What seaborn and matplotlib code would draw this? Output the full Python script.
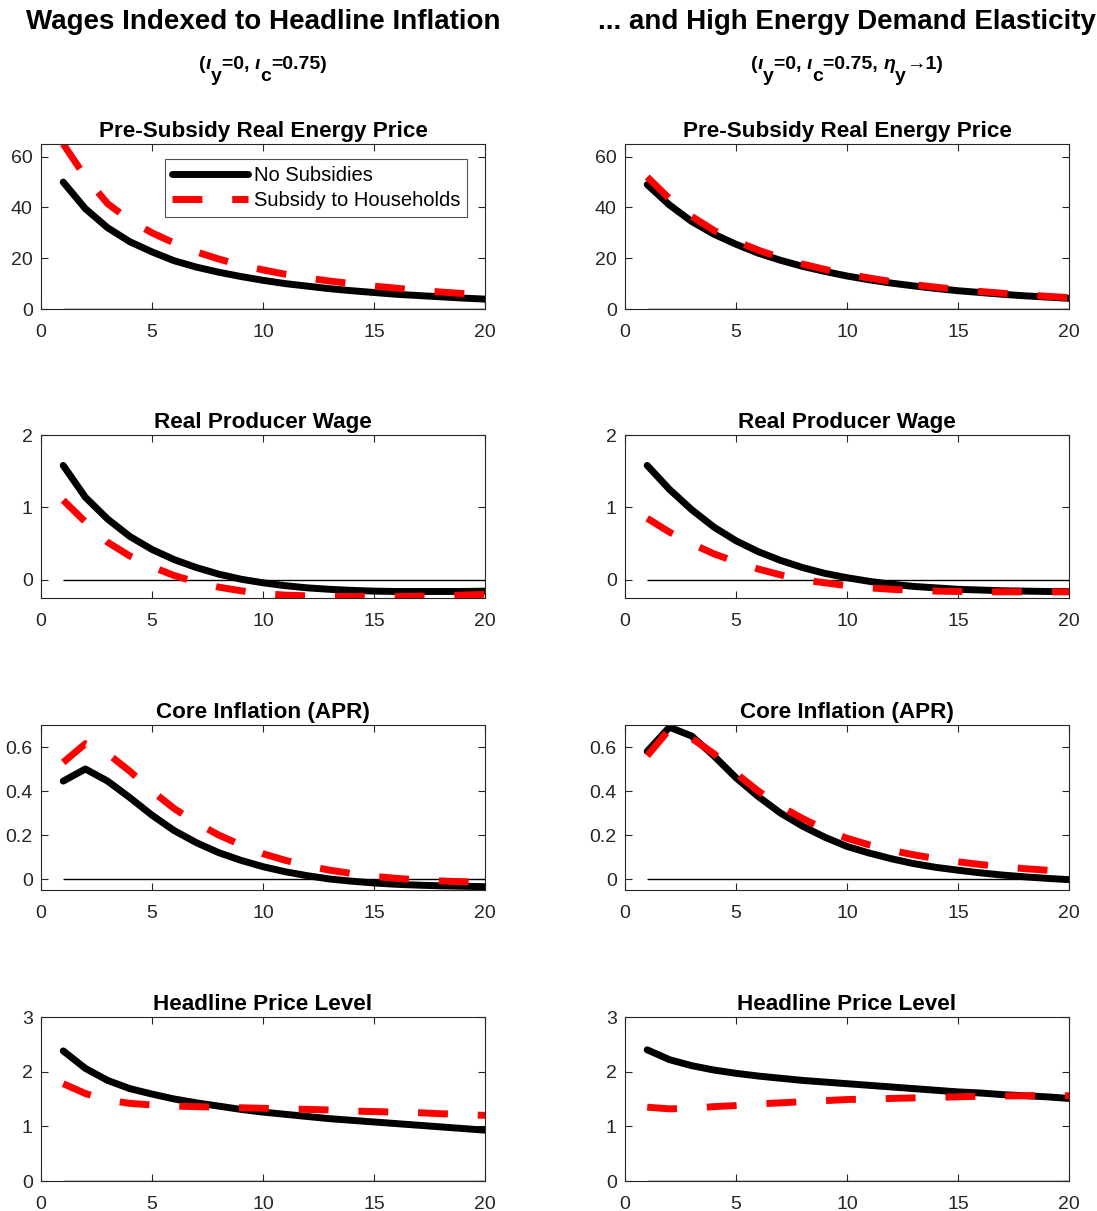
import matplotlib
matplotlib.use("Agg")
import matplotlib.pyplot as plt
from matplotlib.lines import Line2D
import pandas as pd
import seaborn as sns

sns.set_style("ticks")
plt.rcParams["font.family"] = ["Liberation Sans", "DejaVu Sans"]

# ---------------------------------------------------------------- data
quarters = list(range(1, 21))
series_names = ["No Subsidies", "Subsidy to Households"]

column_titles = ["Wages Indexed to Headline Inflation",
                 "... and High Energy Demand Elasticity"]
# subtitle pieces: (text, lowered?, italic?)
column_subtitles = [
    [("(", 0, False), ("ι", 0, True), ("y", 1, False), ("=0, ", 0, False),
     ("ι", 0, True), ("c", 1, False), ("=0.75)", 0, False)],
    [("(", 0, False), ("ι", 0, True), ("y", 1, False), ("=0, ", 0, False),
     ("ι", 0, True), ("c", 1, False), ("=0.75, ", 0, False),
     ("η", 0, True), ("y", 1, False), ("→1)", 0, False)],
]
panel_titles = ["Pre-Subsidy Real Energy Price", "Real Producer Wage",
                "Core Inflation (APR)", "Headline Price Level"]

# Left column: wages indexed to headline inflation
energy_nosub_L = [50.0, 39.5, 32.0, 26.5, 22.5, 19.0, 16.5, 14.5, 12.8, 11.3,
                  10.0, 9.0, 8.0, 7.2, 6.5, 5.8, 5.3, 4.8, 4.3, 3.9]
energy_sub_L = [65.0, 52.0, 41.5, 35.0, 30.0, 26.0, 22.5, 19.7, 17.3, 15.4,
                13.7, 12.2, 11.0, 10.0, 9.0, 8.2, 7.4, 6.7, 6.1, 5.5]
wage_nosub_L = [1.58, 1.14, 0.84, 0.60, 0.42, 0.28, 0.17, 0.08, 0.01, -0.04,
                -0.08, -0.11, -0.13, -0.145, -0.155, -0.16, -0.16, -0.16, -0.16, -0.155]
wage_sub_L = [1.10, 0.80, 0.52, 0.33, 0.18, 0.06, -0.03, -0.10, -0.15, -0.19,
              -0.21, -0.22, -0.23, -0.23, -0.23, -0.23, -0.225, -0.22, -0.21, -0.20]
core_nosub_L = [0.445, 0.50, 0.445, 0.37, 0.29, 0.22, 0.165, 0.12, 0.085, 0.056,
                0.033, 0.015, 0.0, -0.01, -0.018, -0.024, -0.028, -0.031, -0.033, -0.035]
core_sub_L = [0.53, 0.615, 0.57, 0.49, 0.40, 0.32, 0.255, 0.20, 0.155, 0.115,
              0.085, 0.06, 0.04, 0.025, 0.012, 0.003, -0.004, -0.009, -0.012, -0.015]
price_nosub_L = [2.38, 2.06, 1.84, 1.69, 1.59, 1.50, 1.43, 1.37, 1.31, 1.26,
                 1.22, 1.18, 1.14, 1.11, 1.08, 1.05, 1.02, 0.99, 0.96, 0.93]
price_sub_L = [1.78, 1.60, 1.48, 1.42, 1.39, 1.37, 1.36, 1.35, 1.34, 1.33,
               1.32, 1.31, 1.30, 1.28, 1.27, 1.26, 1.25, 1.23, 1.22, 1.20]

# Right column: high energy demand elasticity
energy_nosub_R = [49.0, 41.0, 34.5, 29.5, 25.5, 22.0, 19.2, 16.8, 14.8, 13.0,
                  11.5, 10.2, 9.1, 8.1, 7.2, 6.5, 5.8, 5.2, 4.7, 4.2]
energy_sub_R = [52.0, 43.5, 36.5, 31.0, 26.7, 23.2, 20.2, 17.7, 15.6, 13.8,
                12.2, 10.8, 9.6, 8.6, 7.7, 6.9, 6.2, 5.6, 5.0, 4.5]
wage_nosub_R = [1.58, 1.25, 0.97, 0.73, 0.54, 0.39, 0.27, 0.17, 0.09, 0.03,
                -0.02, -0.06, -0.09, -0.11, -0.13, -0.14, -0.15, -0.155, -0.16, -0.16]
wage_sub_R = [0.85, 0.66, 0.50, 0.36, 0.25, 0.15, 0.07, 0.0, -0.04, -0.08,
              -0.11, -0.13, -0.145, -0.155, -0.16, -0.165, -0.165, -0.165, -0.165, -0.165]
core_nosub_R = [0.58, 0.69, 0.65, 0.56, 0.46, 0.375, 0.30, 0.24, 0.19, 0.148,
                0.118, 0.092, 0.07, 0.053, 0.04, 0.028, 0.018, 0.01, 0.003, -0.003]
core_sub_R = [0.56, 0.68, 0.64, 0.57, 0.48, 0.40, 0.33, 0.275, 0.225, 0.185,
              0.155, 0.13, 0.11, 0.093, 0.078, 0.066, 0.056, 0.047, 0.04, 0.034]
price_nosub_R = [2.40, 2.22, 2.11, 2.03, 1.97, 1.92, 1.88, 1.84, 1.81, 1.78,
                 1.75, 1.72, 1.69, 1.66, 1.63, 1.61, 1.58, 1.56, 1.54, 1.51]
price_sub_R = [1.35, 1.32, 1.33, 1.36, 1.38, 1.41, 1.43, 1.45, 1.47, 1.49,
               1.50, 1.51, 1.52, 1.53, 1.54, 1.55, 1.555, 1.56, 1.56, 1.56]

y_limits = [(0, 65), (-0.25, 2), (-0.05, 0.7), (0, 3)]
y_ticks = [[0, 20, 40, 60], [0, 1, 2], [0, 0.2, 0.4, 0.6], [0, 1, 2, 3]]
y_ticklabels = [["0", "20", "40", "60"], ["0", "1", "2"],
                ["0", "0.2", "0.4", "0.6"], ["0", "1", "2", "3"]]
x_ticks = [0, 5, 10, 15, 20]

panels = [
    [(energy_nosub_L, energy_sub_L), (energy_nosub_R, energy_sub_R)],
    [(wage_nosub_L, wage_sub_L), (wage_nosub_R, wage_sub_R)],
    [(core_nosub_L, core_sub_L), (core_nosub_R, core_sub_R)],
    [(price_nosub_L, price_sub_L), (price_nosub_R, price_sub_R)],
]

# ---------------------------------------------------------------- style
palette = {series_names[0]: "black", series_names[1]: "red"}
dash_map = {series_names[0]: "", series_names[1]: (4.3, 4.3)}
AX_GREY = "#262626"
LINE_W = 5.0

FIG_W, FIG_H = 1097, 1211
fig = plt.figure(figsize=(FIG_W / 100, FIG_H / 100), dpi=100)

col_left = [41 / FIG_W, 625 / FIG_W]
ax_width = 444 / FIG_W
row_px = [(144, 309), (435, 598), (725, 890), (1017, 1181)]


def draw_panel(ax, nosub, sub, row):
    df = pd.DataFrame({
        "quarter": quarters * 2,
        "value": list(nosub) + list(sub),
        "scenario": [series_names[0]] * len(quarters) + [series_names[1]] * len(quarters),
    })
    ax.hlines(0, quarters[0], quarters[-1], color="black", lw=1.0, zorder=1)
    sns.lineplot(data=df, x="quarter", y="value", hue="scenario", style="scenario",
                 hue_order=series_names, style_order=series_names,
                 palette=palette, dashes=dash_map, linewidth=LINE_W,
                 legend=False, ax=ax, zorder=2)
    ax.set_xlim(0, 20)
    ax.set_ylim(*y_limits[row])
    ax.set_xticks(x_ticks)
    ax.set_yticks(y_ticks[row])
    ax.set_yticklabels(y_ticklabels[row])
    ax.set_xlabel("")
    ax.set_ylabel("")
    ax.tick_params(direction="in", top=True, right=True, length=5, width=0.8,
                   color=AX_GREY, labelcolor=AX_GREY, labelsize=14)
    ax.tick_params(axis="x", pad=11)
    ax.tick_params(axis="y", pad=6)
    for sp in ax.spines.values():
        sp.set_visible(True)
        sp.set_color(AX_GREY)
        sp.set_linewidth(0.8)
    ax.set_title(panel_titles[row], fontsize=16.2, fontweight="bold", pad=5,
                 color="black")


for row in range(4):
    top, bot = row_px[row]
    for col in range(2):
        ax = fig.add_axes([col_left[col], 1 - bot / FIG_H, ax_width, (bot - top) / FIG_H])
        nosub, sub = panels[row][col]
        draw_panel(ax, nosub, sub, row)
        if row == 0 and col == 0:
            handles = [Line2D([], [], color=palette[n], lw=LINE_W,
                              dashes=(None, None) if dash_map[n] == "" else dash_map[n])
                       for n in series_names]
            leg = ax.legend(handles, series_names, loc="upper right",
                            bbox_to_anchor=(0.96, 0.91), fontsize=14.5,
                            handlelength=3.75, handletextpad=0.3, borderpad=0.35,
                            labelspacing=0.3, borderaxespad=0,
                            frameon=True, fancybox=False)
            leg.get_frame().set_edgecolor(AX_GREY)
            leg.get_frame().set_linewidth(0.8)
            for t in leg.get_texts():
                t.set_color("black")


def place_pieces(xc_px, base_px, pieces, size, drop_px):
    """Lay out a run of text pieces left to right, centred on xc_px."""
    renderer = fig.canvas.get_renderer()
    objs = []
    for txt, low, ital in pieces:
        y = 1 - (base_px + drop_px * low) / FIG_H
        t = fig.text(0, y, txt, fontsize=size, fontweight="bold",
                     style="italic" if ital else "normal",
                     ha="left", va="baseline", color="black")
        objs.append(t)
    widths = [t.get_window_extent(renderer).width for t in objs]
    x = xc_px - sum(widths) / 2
    for t, w in zip(objs, widths):
        t.set_x(x / FIG_W)
        x += w


centers = [263, 847]
for col in range(2):
    fig.text(centers[col] / FIG_W, 1 - 22 / FIG_H, column_titles[col], ha="center",
             va="center", fontsize=20, fontweight="bold", color="black")
    place_pieces(centers[col], 69, column_subtitles[col], 14, 12)

fig.savefig("out.png", dpi=100)
